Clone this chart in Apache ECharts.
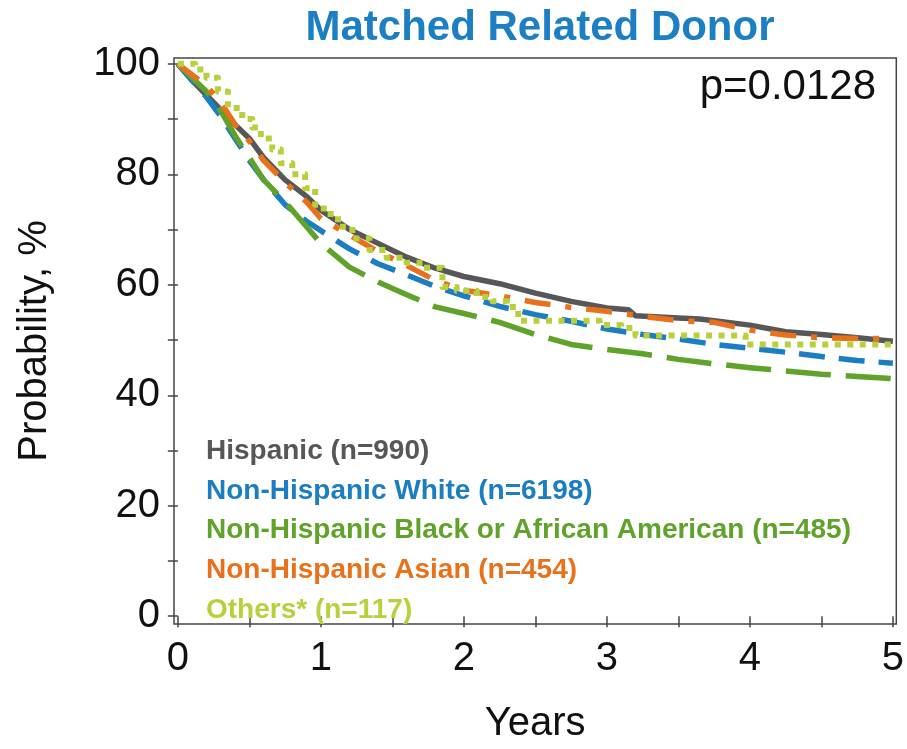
<!DOCTYPE html>
<html>
<head>
<meta charset="utf-8">
<script src="https://cdn.jsdelivr.net/npm/echarts@6/dist/echarts.min.js"></script>
<style>html,body{margin:0;padding:0;background:#fff}#c{width:907px;height:749px}</style>
</head>
<body>
<div id="c"></div>
<script>
// ---- data ----
const titleText = 'Matched Related Donor';
const pValueText = 'p=0.0128';
const xTicks = [0, 0.5, 1, 1.5, 2, 2.5, 3, 3.5, 4, 4.5, 5];
const xLabels = [0, 1, 2, 3, 4, 5];
const yTicks = [0, 10, 20, 30, 40, 50, 60, 70, 80, 90, 100];
const yLabels = [0, 20, 40, 60, 80, 100];
const seriesNames = ['Hispanic (n=990)', 'Non-Hispanic White (n=6198)', 'Non-Hispanic Black or African American (n=485)', 'Non-Hispanic Asian (n=454)', 'Others* (n=117)'];

const hispT = [0, 0.1, 0.25, 0.4, 0.5, 0.6, 0.75, 0.9, 1.0, 1.2, 1.4, 1.6, 1.8, 2.0, 2.25, 2.5, 2.75, 3.0, 3.15, 3.2, 3.5, 3.65, 3.75, 4.0, 4.25, 4.5, 4.75, 5.0];
const hispP = [100, 97, 93, 89, 86.5, 83, 79, 76, 73.5, 70, 67.5, 65, 63, 61.5, 60.2, 58.5, 57, 55.8, 55.5, 54.4, 54, 53.8, 53.5, 52.7, 51.5, 51, 50.4, 49.8];

const whiteT = [0, 0.1, 0.2, 0.3, 0.4, 0.5, 0.6, 0.75, 0.9, 1.0, 1.2, 1.4, 1.6, 1.8, 2.0, 2.25, 2.5, 2.75, 3.0, 3.25, 3.5, 3.75, 4.0, 4.25, 4.5, 4.75, 5.0];
const whiteP = [100, 97, 94, 90.5, 86.5, 82.5, 79, 74.5, 71.5, 69.8, 66.5, 63.8, 61.8, 59.7, 58, 56.1, 54.6, 53.4, 52, 51, 50.2, 49.2, 48.5, 47.8, 47, 46.3, 45.8];

const blackT = [0, 0.1, 0.2, 0.3, 0.4, 0.5, 0.6, 0.75, 0.9, 1.0, 1.2, 1.4, 1.6, 1.8, 2.0, 2.25, 2.5, 2.75, 3.0, 3.25, 3.5, 3.75, 4.0, 4.25, 4.5, 4.75, 5.0];
const blackP = [100, 97.5, 95, 91.5, 87, 83, 79, 75, 70.5, 67.5, 63.2, 60.5, 58.2, 56, 54.8, 53.2, 51, 49.2, 48.3, 47.5, 46.5, 45.7, 45, 44.4, 43.8, 43.4, 43];

const asianT = [0, 0.1, 0.2, 0.3, 0.4, 0.5, 0.6, 0.75, 0.9, 1.0, 1.2, 1.4, 1.6, 1.8, 2.0, 2.25, 2.5, 2.75, 3.0, 3.25, 3.5, 3.75, 4.0, 4.25, 4.5, 4.75, 5.0];
const asianP = [100, 98, 96, 93, 89, 86, 82.5, 78.5, 75, 72, 69, 66, 63.5, 60.8, 59, 58, 56.8, 55.9, 55.2, 54.3, 53.5, 53.2, 51.8, 50.9, 50.4, 50.3, 50.3];

const othersT = [0, 0.12, 0.2, 0.28, 0.35, 0.45, 0.52, 0.58, 0.66, 0.72, 0.8, 0.89, 0.96, 1.02, 1.12, 1.22, 1.34, 1.46, 1.6, 1.72, 1.85, 1.95, 2.09, 2.2, 2.3, 2.38, 2.95, 3.1, 3.2, 3.97, 5.0];
const othersP = [100, 99, 97.5, 95, 92, 90, 88.5, 86.5, 84.5, 82, 80, 77.5, 74.5, 72.8, 70.5, 68.4, 66.3, 64.9, 64, 63.1, 59.6, 58.9, 57.8, 57, 56, 53.5, 52.7, 52.2, 50.8, 49.2, 49.2];

// ---- styles ----
const FONT = "'Liberation Sans', Arial, Helvetica, sans-serif";
const colors = ['#575757', '#1b7dc2', '#5fa32a', '#e8721c', '#b9cf3c'];
const dashes = ['solid', [26, 14], [45, 15], [26, 15, 6, 15], [6, 6.5]];
const widths = [5.5, 5.5, 5.5, 5.5, 6];
const steps = [false, false, false, false, 'end'];
const dataT = [hispT, whiteT, blackT, asianT, othersT];
const dataP = [hispP, whiteP, blackP, asianP, othersP];

const series = seriesNames.map((name, i) => ({
  name: name,
  type: 'line',
  showSymbol: false,
  symbol: 'none',
  step: steps[i],
  smooth: false,
  animation: false,
  data: dataT[i].map((t, k) => [t, dataP[i][k]]),
  lineStyle: { color: colors[i], width: widths[i], type: dashes[i], cap: 'butt', join: 'round' },
  itemStyle: { color: colors[i] },
  z: 2 + i
}));

const chart = echarts.init(document.getElementById('c'), null, { renderer: 'canvas' });
chart.setOption({
  animation: false,
  backgroundColor: '#ffffff',
  title: [
    { text: titleText, left: 535, textAlign: 'center', top: 2,
      textStyle: { color: '#1c7fc3', fontSize: 42, fontWeight: 'bold', fontFamily: FONT } },
    { text: pValueText, right: 26, top: 61,
      textStyle: { color: '#111', fontSize: 42, fontWeight: 'normal', fontFamily: FONT } }
  ],
  legend: {
    orient: 'vertical', left: 196, top: 432,
    icon: 'none', itemWidth: 0, itemHeight: 0, itemGap: 11.8,
    selectedMode: false,
    data: seriesNames.map((n, i) => ({ name: n, textStyle: { color: colors[i] } })),
    textStyle: { fontSize: 28, fontWeight: 'bold', fontFamily: FONT, lineHeight: 28 }
  },
  grid: { left: 174, right: 10, top: 58, bottom: 110, show: true, borderColor: '#444', borderWidth: 1.5, backgroundColor: 'transparent' },
  xAxis: {
    type: 'value', min: -0.027, max: 5.024,
    name: 'Years', nameLocation: 'middle', nameGap: 80,
    nameTextStyle: { fontSize: 40, color: '#111', fontFamily: FONT },
    axisLine: { show: false },
    axisTick: { show: true, inside: false, length: 11, customValues: xTicks, lineStyle: { color: '#444', width: 1.5 } },
    axisLabel: { customValues: xLabels, fontSize: 40, color: '#111', fontFamily: FONT, margin: 15 },
    splitLine: { show: false }
  },
  yAxis: {
    type: 'value', min: -1.41, max: 101.06,
    name: 'Probability, %', nameLocation: 'middle', nameRotate: 90, nameGap: 119,
    nameTextStyle: { fontSize: 40, color: '#111', fontFamily: FONT },
    axisLine: { show: false },
    axisTick: { show: true, inside: false, length: 10, customValues: yTicks, lineStyle: { color: '#444', width: 1.5 } },
    axisLabel: { customValues: yLabels, fontSize: 40, color: '#111', fontFamily: FONT, margin: 14 },
    splitLine: { show: false }
  },
  series: series
});
</script>
</body>
</html>
